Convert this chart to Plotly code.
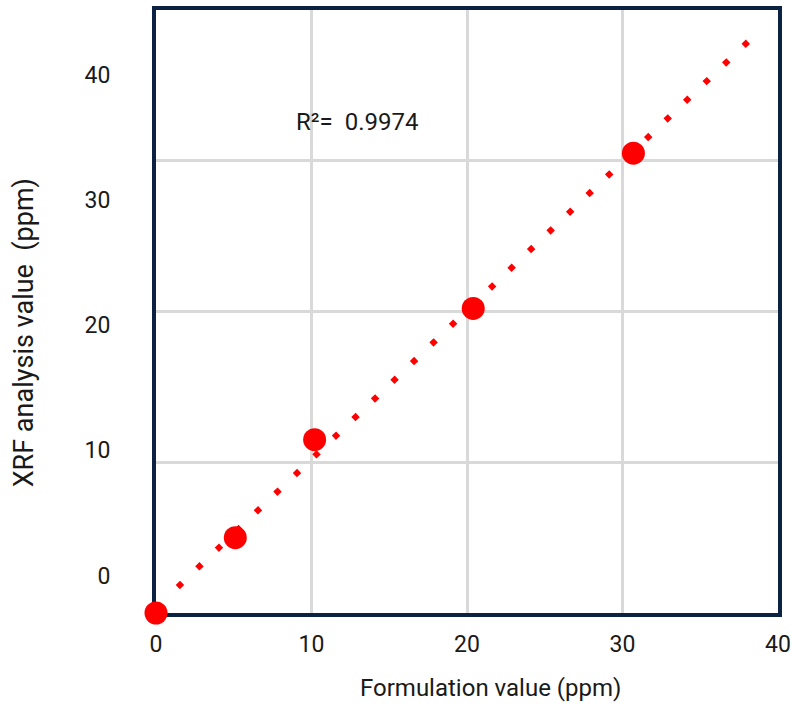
import numpy as np
import plotly.graph_objects as go

# Data
formulation_ppm = [0.0, 5.1, 10.2, 20.4, 30.7]
xrf_ppm = [0.0, 5.0, 11.5, 20.2, 30.5]
trend_x_range = [1.4, 38.65]
r2_text = "R²=  0.9974"
x_ticks = [0, 10, 20, 30, 40]
y_ticks = [0, 10, 20, 30, 40]
y_grid = [10, 20, 30]

slope, intercept = np.polyfit(formulation_ppm, xrf_ppm, 1)
trend_x = np.array(trend_x_range)
trend_y = slope * trend_x + intercept

RED = "#ff0000"
NAVY = "#0b2243"
GRID = "#d9d9d9"
FONT = "Roboto"
TXT = "#1a1a1a"

fig = go.Figure()
fig.add_trace(go.Scatter(
    x=trend_x, y=trend_y, mode="lines",
    line=dict(color=RED, width=6, dash="6px,21px"),
    showlegend=False, hoverinfo="skip", cliponaxis=False,
))
fig.add_trace(go.Scatter(
    x=formulation_ppm, y=xrf_ppm, mode="markers",
    marker=dict(color=RED, size=23, line=dict(width=0)),
    showlegend=False, cliponaxis=False,
))
# empty trace so the label axis is rendered
fig.add_trace(go.Scatter(x=[], y=[], yaxis="y2", showlegend=False, hoverinfo="skip"))

fig.update_layout(
    width=792, height=708,
    margin=dict(l=156, r=14, t=10, b=95, autoexpand=False),
    paper_bgcolor="white", plot_bgcolor="white",
    font=dict(family=FONT, size=23, color=TXT),
    xaxis=dict(
        range=[0, 40], tickvals=x_ticks, showgrid=True, gridcolor=GRID, gridwidth=3,
        zeroline=False, showline=True, mirror=True, linecolor=NAVY, linewidth=4,
        ticks="outside", ticklen=7, tickcolor="rgba(0,0,0,0)", automargin=False,
        tickfont=dict(family=FONT, size=23, color=TXT), layer="below traces",
        ticklabeloverflow="allow",
    ),
    yaxis=dict(
        range=[0, 40], tickvals=y_grid, showgrid=True, gridcolor=GRID, gridwidth=3,
        zeroline=False, showline=True, mirror=True, linecolor=NAVY, linewidth=4,
        showticklabels=False, ticks="", layer="below traces", automargin=False,
    ),
    yaxis2=dict(
        overlaying="y", side="left", range=[-3.0, 45.2], tickvals=y_ticks,
        showgrid=False, zeroline=False, showline=False, automargin=False,
        ticks="outside", ticklen=40, tickcolor="rgba(0,0,0,0)",
        tickfont=dict(family=FONT, size=23, color=TXT),
    ),
    annotations=[
        dict(text=r2_text, x=8.9, y=32.6, xref="x", yref="y", xanchor="left",
             yanchor="middle", showarrow=False, font=dict(family=FONT, size=24, color=TXT)),
        dict(text="Formulation value (ppm)", x=0.537, y=-0.124, xref="paper", yref="paper",
             xanchor="center", yanchor="middle", showarrow=False,
             font=dict(family=FONT, size=24, color=TXT)),
        dict(text="XRF analysis value  (ppm)", x=-0.212, y=0.464, xref="paper", yref="paper",
             xanchor="center", yanchor="middle", textangle=-90, showarrow=False,
             font=dict(family=FONT, size=27, color=TXT)),
    ],
)

fig.write_html("out.html", config={"displayModeBar": False},
               post_script="document.body.style.margin='0';")
